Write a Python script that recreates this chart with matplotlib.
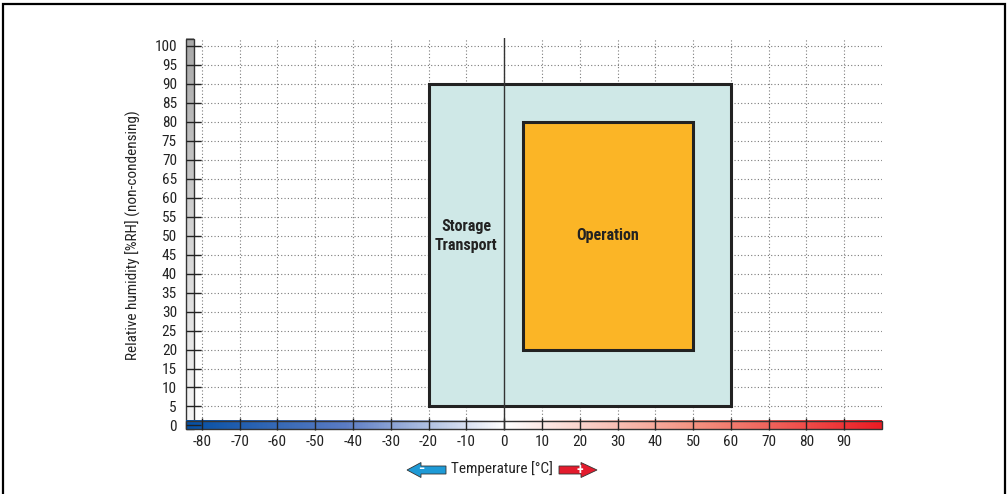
import numpy as np
import matplotlib.pyplot as plt
from matplotlib import font_manager
from matplotlib.colors import LinearSegmentedColormap
from matplotlib.patches import Rectangle, FancyArrow

installed = {f.name for f in font_manager.fontManager.ttflist}
narrow = None
for name in ['Liberation Sans Narrow', 'Roboto Condensed', 'Open Sans Condensed', 'Arial Narrow']:
    if name in installed:
        narrow = name
        break
if narrow:
    plt.rcParams['font.family'] = [narrow, 'DejaVu Sans']
    fs = 11
else:
    plt.rcParams['font.family'] = ['Liberation Sans', 'DejaVu Sans']
    fs = 9.5
plt.rcParams['axes.unicode_minus'] = False

# temperature / humidity ranges
x_ticks = [-80, -70, -60, -50, -40, -30, -20, -10, 0, 10, 20, 30, 40, 50, 60, 70, 80, 90]
y_ticks = list(range(0, 101, 5))
storage_temp = [-20, 60]
storage_hum = [5, 90]
oper_temp = [5, 50]
oper_hum = [20, 80]
xlim = (-84.2, 100)
ylim = (-1.2, 102.1)
vbar_right = -82.1
hbar_top = 1.2

fig = plt.figure(figsize=(10.08, 4.94), dpi=100)

# overlay in pixel coords for frame and legend arrows
ov = fig.add_axes([0, 0, 1, 1])
ov.set_xlim(0, 1008)
ov.set_ylim(494, 0)
ov.axis('off')
ov.plot([3, 3, 1005, 1005], [494, 4, 4, 494], color='black', linewidth=1.6,
        solid_joinstyle='miter')

ax = fig.add_axes([186 / 1008, 64 / 494, 696 / 1008, 392 / 494])
ax.set_xlim(*xlim)
ax.set_ylim(*ylim)
for s in ax.spines.values():
    s.set_visible(False)

ax.set_xticks(x_ticks)
ax.set_yticks(y_ticks)
# dotted grid, starting from the gradient bars
ax.hlines(y_ticks[1:], vbar_right, xlim[1], linestyles=(0, (1, 2)), colors='#7a7a7a',
          linewidth=0.8, zorder=1)
ax.vlines(x_ticks, hbar_top, ylim[1], linestyles=(0, (1, 2)), colors='#7a7a7a',
          linewidth=0.8, zorder=1)
ax.tick_params(axis='both', direction='in', width=1.0, color='#222222',
               labelsize=fs, labelcolor='#222222')
ax.tick_params(axis='y', length=11, pad=6.5)
ax.tick_params(axis='x', length=9, pad=3.5)
ax.xaxis.set_zorder(6.5)
ax.yaxis.set_zorder(6.5)

# humidity gradient bar (left)
vbar = np.linspace(1, 0, 256).reshape(-1, 1)
gray_cm = LinearSegmentedColormap.from_list('g', ['#f6f6f6', '#d4d4d4', '#a8a8a8'])
ax.imshow(vbar, cmap=gray_cm, aspect='auto', extent=(xlim[0], vbar_right, -1, 101.8),
          zorder=3, interpolation='bilinear')
ax.add_patch(Rectangle((xlim[0], -1), vbar_right - xlim[0], 102.8, fill=False,
                       edgecolor='#333333', linewidth=1.0, zorder=4, clip_on=False))

# temperature gradient bar (bottom)
zpos = (0 - xlim[0]) / (xlim[1] - xlim[0])
temp_cm = LinearSegmentedColormap.from_list(
    't', [(0, '#0550a4'), (zpos * 0.5, '#5b7cc4'), (zpos, '#ffffff'),
          (zpos + (1 - zpos) * 0.5, '#f49482'), (1, '#ec1c24')])
hbar = np.linspace(0, 1, 512).reshape(1, -1)
ax.imshow(hbar, cmap=temp_cm, aspect='auto', extent=(xlim[0], xlim[1], -1, hbar_top),
          zorder=5, interpolation='bilinear')
ax.add_patch(Rectangle((xlim[0], -1), xlim[1] - xlim[0], hbar_top + 1, fill=False,
                       edgecolor='#333333', linewidth=1.0, zorder=6, clip_on=False))

# storage / transport range
ax.add_patch(Rectangle((storage_temp[0], storage_hum[0]), storage_temp[1] - storage_temp[0],
                       storage_hum[1] - storage_hum[0], facecolor='#cfe8e7',
                       edgecolor='#222222', linewidth=2.2, zorder=7))
ax.axvline(0, color='#333333', linewidth=1.0, zorder=8)

# operation range
ax.add_patch(Rectangle((oper_temp[0], oper_hum[0]), oper_temp[1] - oper_temp[0],
                       oper_hum[1] - oper_hum[0], facecolor='#fbb526',
                       edgecolor='#222222', linewidth=2.2, zorder=9))

ax.text((storage_temp[0] + oper_temp[0]) / 2 - 2.5, 50, 'Storage\nTransport', ha='center',
        va='center', fontsize=fs + 0.5, fontweight='bold', color='#222222', zorder=10,
        linespacing=1.3)
ax.text(sum(oper_temp) / 2, 50, 'Operation', ha='center', va='center', fontsize=fs + 0.5,
        fontweight='bold', color='#222222', zorder=10)

ax.set_ylabel('Relative humidity [%RH] (non-condensing)', fontsize=fs, color='#222222')
ax.yaxis.set_label_coords(-0.064, 0.497)

ov.text(502, 469, 'Temperature [°C]', ha='center', va='center', fontsize=fs,
        color='#222222')
ov.add_patch(FancyArrow(446, 470, -39, 0, width=8, head_width=15, head_length=14,
                        length_includes_head=True, facecolor='#1e9ad6',
                        edgecolor='#333333', linewidth=0.6))
ov.add_patch(FancyArrow(559, 470, 38, 0, width=8, head_width=15, head_length=16,
                        length_includes_head=True, facecolor='#e31b2d',
                        edgecolor='#333333', linewidth=0.6))
ov.text(421, 469, '−', ha='center', va='center', color='white', fontsize=9,
        fontweight='bold')
ov.text(580, 470, '+', ha='center', va='center', color='white', fontsize=10,
        fontweight='bold')

fig.savefig('out.png', dpi=100)
